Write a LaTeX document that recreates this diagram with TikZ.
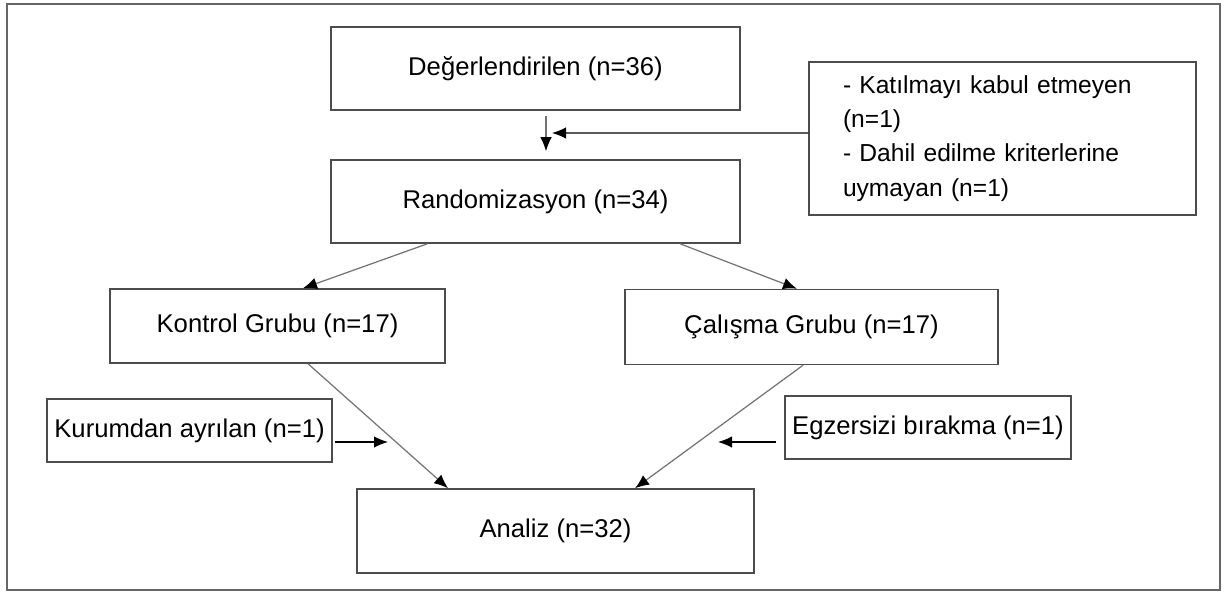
\documentclass[tikz,border=0pt]{standalone}
\usepackage{fontspec}
\setmainfont{Liberation Sans}
\usetikzlibrary{arrows.meta}

\begin{document}
\begin{tikzpicture} [thin,>={Latex[length=2.8mm,width=2.3mm,black]},
		every box/.style={draw=black!70,line width=0.85pt,inner sep=0pt,
			font=\fontsize{14.6}{17}\selectfont},
		box/.style={every box,minimum width=#1},
		flow/.style={->,draw=black!55,line width=0.7pt},
		side/.style={->,draw=black,line width=0.7pt}]

			\useasboundingbox (0,0) rectangle (24.52,11.86);
			\draw [black!60,line width=0.6pt] (0.14,0.06) rectangle (24.4,11.78);

			\node [box=8.18cm, minimum height=1.66cm] (box-eval) at (10.71,10.49) {De\u{g}erlendirilen (n=36)};
			\node [box=8.18cm, minimum height=1.66cm] (box-rand) at (10.71,7.83) {Randomizasyon (n=34)};
			\node [box=7.74cm, minimum height=3.06cm, text width=6.38cm, align=left,
				font=\fontsize{14}{19.5}\selectfont] (box-excl) at (20.05,9.09)
				{- Katılmayı kabul etmeyen\\ (n=1)\\- Dahil edilme kriterlerine\\ uymayan (n=1)};
			\node [box=6.7cm, minimum height=1.48cm] (box-ctrl) at (5.55,5.34) {Kontrol Grubu (n=17)};
			\node [box=7.46cm, minimum height=1.5cm] (box-study) at (16.23,5.32) {Çalışma Grubu (n=17)};
			\node [box=5.7cm, minimum height=1.26cm] (box-left) at (3.79,3.25) {Kurumdan ayrılan (n=1)};
			\node [box=5.72cm, minimum height=1.26cm] (box-quit) at (18.56,3.31) {Egzersizi bırakma (n=1)};
			\node [box=7.94cm, minimum height=1.68cm] (box-anal) at (11.11,1.24) {Analiz (n=32)};

			\coordinate (join-excl) at (11.04,9.2);
			\coordinate (join-left) at (7.76,3.02);
			\coordinate (join-quit) at (14.36,3.02);

			\draw [flow, shorten <=0.1cm, shorten >=0.16cm]
				([xshift=0.21cm]box-eval.south) -- ([xshift=0.21cm]box-rand.north);
			\draw [side] ([yshift=0.11cm]box-excl.west) -- (join-excl);
			\draw [flow] ([xshift=-2.16cm]box-rand.south) -- ([xshift=0.51cm]box-ctrl.north);
			\draw [flow] ([xshift=2.89cm]box-rand.south) -- ([xshift=-0.29cm]box-study.north);
			\draw [flow] ([xshift=0.61cm]box-ctrl.south) -- ([xshift=-2.15cm]box-anal.north);
			\draw [flow] ([xshift=-0.17cm]box-study.south) -- ([xshift=1.59cm]box-anal.north);
			\draw [side, shorten <=0.04cm] (box-left.east |- join-left) -- (join-left);
			\draw [side, shorten <=0.16cm] (box-quit.west |- join-quit) -- (join-quit);
		\end{tikzpicture}
\end{document}
